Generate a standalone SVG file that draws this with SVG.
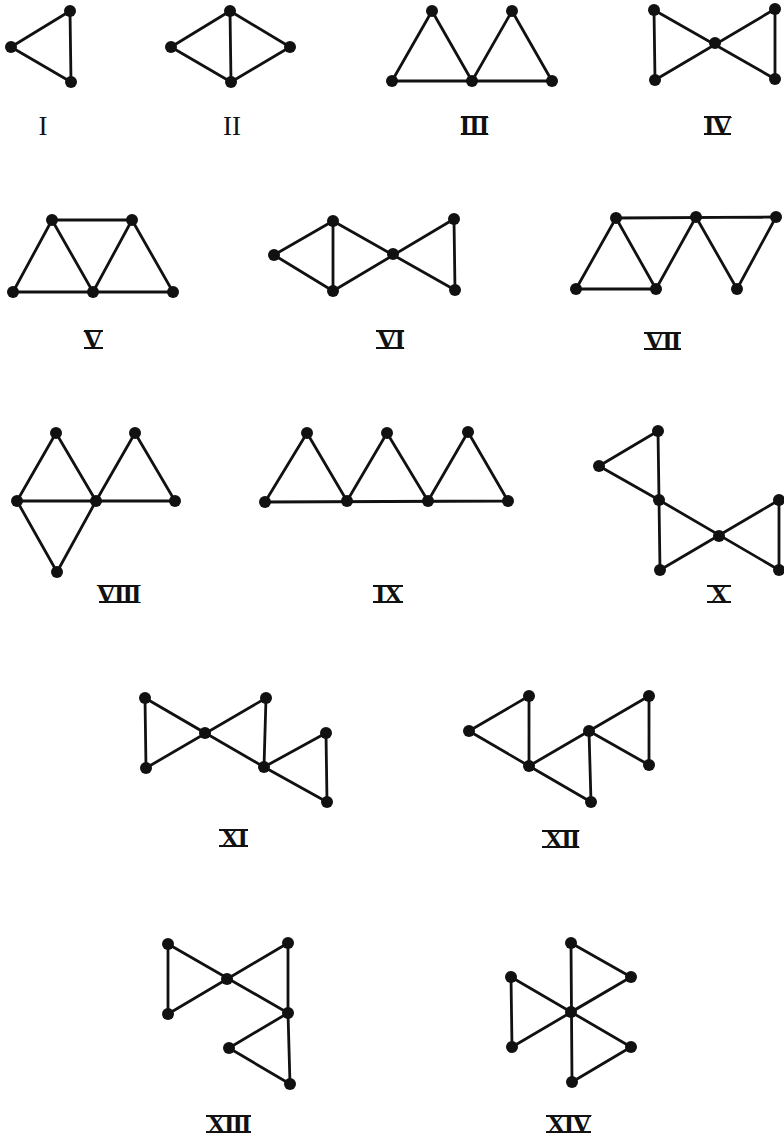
<svg xmlns="http://www.w3.org/2000/svg" width="784" height="1140" viewBox="0 0 784 1140">
<style>
.e{stroke:#111;stroke-width:2.8;stroke-linecap:round;stroke-linejoin:round;fill:none}
.n{fill:#111}
.l{font-family:"Liberation Serif","DejaVu Serif",serif;font-size:27px;fill:#111;text-anchor:middle;font-weight:bold}
.p{font-weight:normal}
.b{stroke:#111;stroke-width:2.2}
</style>
<rect width="784" height="1140" fill="#fff"/>
<g id="connectors">
<path class="e" d="M70,11 L11,47 L71,82 Z"/>
<path class="e" d="M171,47 L230,11 L290,47 L231,82 Z M230,11 L231,82"/>
<path class="e" d="M392,81 L552,81 M392,81 L432,11 L472,81 L512,11 L552,81"/>
<path class="e" d="M654,10 L655,80 L775,9 L775,79 L654,10"/>
<path class="e" d="M13,292 L173,292 M52,220 L132,220 M13,292 L52,220 L93,292 L132,220 L173,292"/>
<path class="e" d="M274,255 L333,221 L333,291 Z M333,221 L455,290 L454,219 L333,291"/>
<path class="e" d="M576,289 L656,289 M616,218 L776,217 M576,289 L616,218 L656,289 L696,217 L737,289 L776,217"/>
<path class="e" d="M17,501 L175,501 M17,501 L56,433 L96,501 L135,433 L175,501 M17,501 L57,572 L96,501"/>
<path class="e" d="M265,502 L508,501 M265,502 L307,433 L347,501 L387,433 L428,501 L468,432 L508,501"/>
<path class="e" d="M599,466 L658,431 L659,500 Z M659,500 L660,570 L779,500 L779,570 L659,500"/>
<path class="e" d="M145,698 L146,768 L266,698 L264,767 L327,802 L326,733 L264,767 Z M145,698 L205,733"/>
<path class="e" d="M469,731 L529,696 L529,766 Z M529,766 L591,802 L589,731 Z M589,731 L649,696 L649,765 Z"/>
<path class="e" d="M168,944 L168,1014 L288,943 L288,1013 L168,944 M288,1013 L229,1048 L290,1084 Z"/>
<path class="e" d="M571,943 L572,1082 M571,943 L631,977 L571,1012 M511,977 L512,1047 L631,977 M511,977 L631,1047 L572,1082"/>
</g>
<g id="graph-I"><circle class="n" cx="70" cy="11" r="6"/><circle class="n" cx="11" cy="47" r="6"/><circle class="n" cx="71" cy="82" r="6"/><text class="l p" x="43" y="135">I</text></g>
<g id="graph-II"><circle class="n" cx="171" cy="47" r="6"/><circle class="n" cx="230" cy="11" r="6"/><circle class="n" cx="231" cy="82" r="6"/><circle class="n" cx="290" cy="47" r="6"/><text class="l p" x="232" y="135">II</text></g>
<g id="graph-III"><circle class="n" cx="392" cy="81" r="6"/><circle class="n" cx="432" cy="11" r="6"/><circle class="n" cx="472" cy="81" r="6"/><circle class="n" cx="512" cy="11" r="6"/><circle class="n" cx="552" cy="81" r="6"/><text class="l" x="474" y="135" letter-spacing="-1">III</text><path class="b" d="M461,117 H488 M461,134 H488"/></g>
<g id="graph-IV"><circle class="n" cx="654" cy="10" r="6"/><circle class="n" cx="655" cy="80" r="6"/><circle class="n" cx="715" cy="43" r="6"/><circle class="n" cx="775" cy="9" r="6"/><circle class="n" cx="775" cy="79" r="6"/><text class="l" x="717" y="135" letter-spacing="-2">IV</text><path class="b" d="M704,117 H731 M704,134 H731"/></g>
<g id="graph-V"><circle class="n" cx="52" cy="220" r="6"/><circle class="n" cx="132" cy="220" r="6"/><circle class="n" cx="13" cy="292" r="6"/><circle class="n" cx="93" cy="292" r="6"/><circle class="n" cx="173" cy="292" r="6"/><text class="l" x="93" y="349">V</text><path class="b" d="M84,331 H103 M84,348 H103"/></g>
<g id="graph-VI"><circle class="n" cx="274" cy="255" r="6"/><circle class="n" cx="333" cy="221" r="6"/><circle class="n" cx="333" cy="291" r="6"/><circle class="n" cx="393" cy="254" r="6"/><circle class="n" cx="454" cy="219" r="6"/><circle class="n" cx="455" cy="290" r="6"/><text class="l" x="390" y="349" letter-spacing="-2">VI</text><path class="b" d="M376,331 H404 M376,348 H404"/></g>
<g id="graph-VII"><circle class="n" cx="616" cy="218" r="6"/><circle class="n" cx="696" cy="217" r="6"/><circle class="n" cx="776" cy="217" r="6"/><circle class="n" cx="576" cy="289" r="6"/><circle class="n" cx="656" cy="289" r="6"/><circle class="n" cx="737" cy="289" r="6"/><text class="l" x="662" y="350" letter-spacing="-2">VII</text><path class="b" d="M644,333 H681 M644,349 H681"/></g>
<g id="graph-VIII"><circle class="n" cx="56" cy="433" r="6"/><circle class="n" cx="135" cy="433" r="6"/><circle class="n" cx="17" cy="501" r="6"/><circle class="n" cx="96" cy="501" r="6"/><circle class="n" cx="175" cy="501" r="6"/><circle class="n" cx="57" cy="572" r="6"/><text class="l" x="118" y="603" letter-spacing="-2">VIII</text><path class="b" d="M99,586 H138 M99,602 H138"/></g>
<g id="graph-IX"><circle class="n" cx="265" cy="502" r="6"/><circle class="n" cx="307" cy="433" r="6"/><circle class="n" cx="347" cy="501" r="6"/><circle class="n" cx="387" cy="433" r="6"/><circle class="n" cx="428" cy="501" r="6"/><circle class="n" cx="468" cy="432" r="6"/><circle class="n" cx="508" cy="501" r="6"/><text class="l" x="388" y="603" letter-spacing="-2">IX</text><path class="b" d="M373,586 H403 M373,602 H403"/></g>
<g id="graph-X"><circle class="n" cx="658" cy="431" r="6"/><circle class="n" cx="599" cy="466" r="6"/><circle class="n" cx="659" cy="500" r="6"/><circle class="n" cx="719" cy="536" r="6"/><circle class="n" cx="660" cy="570" r="6"/><circle class="n" cx="779" cy="500" r="6"/><circle class="n" cx="779" cy="570" r="6"/><text class="l" x="719" y="603">X</text><path class="b" d="M707,586 H731 M707,602 H731"/></g>
<g id="graph-XI"><circle class="n" cx="145" cy="698" r="6"/><circle class="n" cx="146" cy="768" r="6"/><circle class="n" cx="205" cy="733" r="6"/><circle class="n" cx="266" cy="698" r="6"/><circle class="n" cx="264" cy="767" r="6"/><circle class="n" cx="326" cy="733" r="6"/><circle class="n" cx="327" cy="802" r="6"/><text class="l" x="233" y="847" letter-spacing="-2">XI</text><path class="b" d="M219,830 H248 M219,846 H248"/></g>
<g id="graph-XII"><circle class="n" cx="469" cy="731" r="6"/><circle class="n" cx="529" cy="696" r="6"/><circle class="n" cx="529" cy="766" r="6"/><circle class="n" cx="589" cy="731" r="6"/><circle class="n" cx="591" cy="802" r="6"/><circle class="n" cx="649" cy="696" r="6"/><circle class="n" cx="649" cy="765" r="6"/><text class="l" x="561" y="848" letter-spacing="-2">XII</text><path class="b" d="M542,831 H579 M542,847 H579"/></g>
<g id="graph-XIII"><circle class="n" cx="168" cy="944" r="6"/><circle class="n" cx="168" cy="1014" r="6"/><circle class="n" cx="227" cy="979" r="6"/><circle class="n" cx="288" cy="943" r="6"/><circle class="n" cx="288" cy="1013" r="6"/><circle class="n" cx="229" cy="1048" r="6"/><circle class="n" cx="290" cy="1084" r="6"/><text class="l" x="228" y="1133" letter-spacing="-2">XIII</text><path class="b" d="M206,1116 H251 M206,1132 H251"/></g>
<g id="graph-XIV"><circle class="n" cx="571" cy="943" r="6"/><circle class="n" cx="631" cy="977" r="6"/><circle class="n" cx="511" cy="977" r="6"/><circle class="n" cx="571" cy="1012" r="6"/><circle class="n" cx="512" cy="1047" r="6"/><circle class="n" cx="631" cy="1047" r="6"/><circle class="n" cx="572" cy="1082" r="6"/><text class="l" x="568" y="1133" letter-spacing="-2">XIV</text><path class="b" d="M546,1116 H591 M546,1132 H591"/></g>
</svg>
